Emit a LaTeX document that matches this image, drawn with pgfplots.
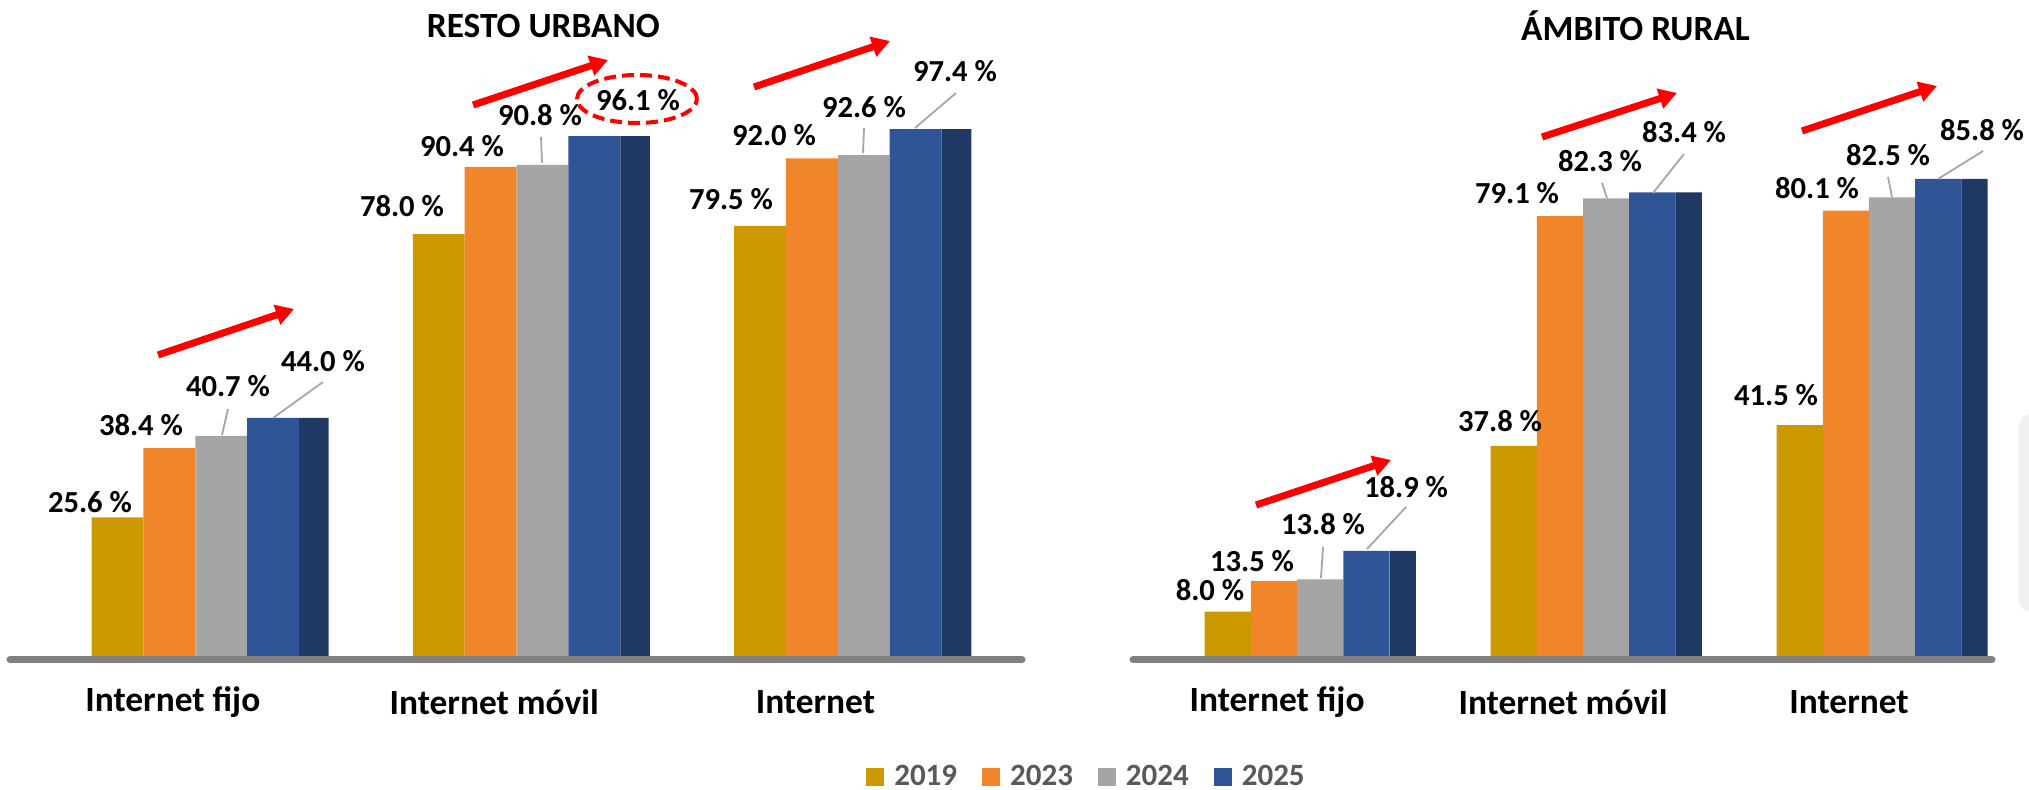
\documentclass[border=0pt]{standalone}
\usepackage{pgfplots}
\pgfplotsset{compat=1.18}
\usepackage{fontspec}
\setmainfont{Carlito}
\usetikzlibrary{arrows.meta}
\definecolor{c19}{HTML}{CC9900}
\definecolor{c23}{HTML}{F0852A}
\definecolor{c24}{HTML}{A5A5A5}
\definecolor{c25}{HTML}{2F5597}
\definecolor{c25d}{HTML}{203864}
\definecolor{axgray}{HTML}{808080}
\definecolor{lgtext}{HTML}{595959}
\definecolor{leader}{HTML}{A6A6A6}
\newcommand\vfont{\fontsize{15.3}{18}\selectfont\bfseries}
\pgfplotsset{
  sq/.style={legend image code/.code={\fill[##1] (0pt,-4.5pt) rectangle (9pt,4.5pt);}},
  common/.style={
    scale only axis, anchor=south west, ymin=0, ymax=100, ybar, clip=false,
    axis line style={draw=none}, ytick=\empty,
    xtick={-0.117,0.883,1.883},
    xticklabels={Internet fijo, Internet móvil, Internet},
    major tick length=0pt,
    xticklabel style={font=\fontsize{17.7}{21}\selectfont\bfseries, anchor=center, yshift=-23pt},
    title style={font=\fontsize{17.7}{21}\selectfont\bfseries, anchor=center, yshift=-6pt},
    every axis plot/.append style={draw=none},
  },
}
\begin{document}
\begin{tikzpicture}
\useasboundingbox (0,0) rectangle (1014.5pt,395pt);
% ---------------- left: RESTO URBANO
\begin{axis}[common, at={(5pt,67pt)}, width=506pt, height=270.5pt,
  xmin=-0.624, xmax=2.526,
  title={RESTO URBANO}, title style={at={(0.527,1.1645)}},
  legend columns=4,
  legend style={at={(1.0647,-0.2237)}, anchor=center, draw=none, fill=none,
     font=\fontsize{15.5}{18}\selectfont\bfseries, text=lgtext,
     /tikz/every odd column/.append style={column sep=3pt},
     /tikz/every even column/.append style={column sep=10.5pt}},
]
\draw[line width=3.5pt, axgray, line cap=round] ([yshift=-1.75pt]axis cs:-0.624,0) -- ([yshift=-1.75pt]axis cs:2.526,0);
\addplot[fill=c19, bar width=0.1615, bar shift=-0.2895, sq] coordinates {(0,25.6) (1,78.0) (2,79.5)};
\addlegendentry{2019}
\addplot[fill=c23, bar width=0.1615, bar shift=-0.128, sq] coordinates {(0,38.4) (1,90.4) (2,92.0)};
\addlegendentry{2023}
\addplot[fill=c24, bar width=0.1615, bar shift=0.0335, sq] coordinates {(0,40.7) (1,90.8) (2,92.6)};
\addlegendentry{2024}
\addplot[fill=c25, bar width=0.1615, bar shift=0.195, sq] coordinates {(0,44.0) (1,96.1) (2,97.4)};
\addlegendentry{2025}
\addplot[fill=c25d, bar width=0.092, bar shift=0.322, forget plot] coordinates {(0,44.0) (1,96.1) (2,97.4)};
\end{axis}
% ---------------- right: AMBITO RURAL
\begin{axis}[common, at={(566.5pt,67pt)}, width=429.5pt, height=278pt,
  xmin=-0.621, xmax=2.383,
  title={ÁMBITO RURAL}, title style={at={(0.585,1.133)}},
]
\draw[line width=3.5pt, axgray, line cap=round] ([yshift=-1.75pt]axis cs:-0.621,0) -- ([yshift=-1.75pt]axis cs:2.383,0);
\addplot[fill=c19, bar width=0.1615, bar shift=-0.2895] coordinates {(0,8.0) (1,37.8) (2,41.5)};
\addplot[fill=c23, bar width=0.1615, bar shift=-0.128] coordinates {(0,13.5) (1,79.1) (2,80.1)};
\addplot[fill=c24, bar width=0.1615, bar shift=0.0335] coordinates {(0,13.8) (1,82.3) (2,82.5)};
\addplot[fill=c25, bar width=0.1615, bar shift=0.195] coordinates {(0,18.9) (1,83.4) (2,85.8)};
\addplot[fill=c25d, bar width=0.092, bar shift=0.322] coordinates {(0,18.9) (1,83.4) (2,85.8)};
\end{axis}
% ---------------- annotations (pixel grid of the reference)
\begin{scope}[x=0.5pt, y=-0.5pt, yshift=395pt]
  \fill[black!6, rounded corners=6pt] (2019,414) rectangle (2045,612);
  % leader lines
  \begin{scope}[leader, line width=0.9pt]
    \draw (222,435) -- (228,409);  \draw (273,418) -- (323,382);
    \draw (542,163) -- (541,137);
    \draw (863,153) -- (864,128);  \draw (915,128) -- (956,93);
    \draw (1321,578) -- (1323,547); \draw (1367,549) -- (1406,507);
    \draw (1607,198) -- (1602,183); \draw (1653,193) -- (1684,154);
    \draw (1892,197) -- (1888,177); \draw (1938,179) -- (1983,151);
  \end{scope}
  % value labels
  \begin{scope}[every node/.style={font=\vfont, inner sep=0pt, anchor=center}]
    \node at (90,502) {25.6 \%};  \node at (141,425) {38.4 \%};
    \node at (228,386) {40.7 \%}; \node at (323,361) {44.0 \%};
    \node at (402,206) {78.0 \%}; \node at (462,146) {90.4 \%};
    \node at (540,115) {90.8 \%}; \node at (638,100) {96.1 \%};
    \node at (731,199) {79.5 \%}; \node at (774,135) {92.0 \%};
    \node at (864,107) {92.6 \%}; \node at (955,71) {97.4 \%};
    \node at (1210,590) {8.0 \%};  \node at (1252,561) {13.5 \%};
    \node at (1323,524) {13.8 \%}; \node at (1406,487) {18.9 \%};
    \node at (1500,421) {37.8 \%}; \node at (1517,193) {79.1 \%};
    \node at (1600,161) {82.3 \%}; \node at (1684,132) {83.4 \%};
    \node at (1776,395) {41.5 \%}; \node at (1817,188) {80.1 \%};
    \node at (1888,155) {82.5 \%}; \node at (1982,130) {85.8 \%};
  \end{scope}
  % red trend arrows
  \begin{scope}[red, line width=3.5pt, -{Triangle[length=9pt,width=10pt]}]
    \draw (158,355) -- (294,309);
    \draw (473,105) -- (608,60);
    \draw (754,87) -- (890,41);
    \draw (1256,505) -- (1391,460);
    \draw (1542,137) -- (1677,93);
    \draw (1802,131) -- (1937,86);
  \end{scope}
  \draw[red, line width=2pt, dash pattern=on 6pt off 3pt] (637,99) ellipse [x radius=30pt, y radius=12pt];
\end{scope}
\end{tikzpicture}
\end{document}
